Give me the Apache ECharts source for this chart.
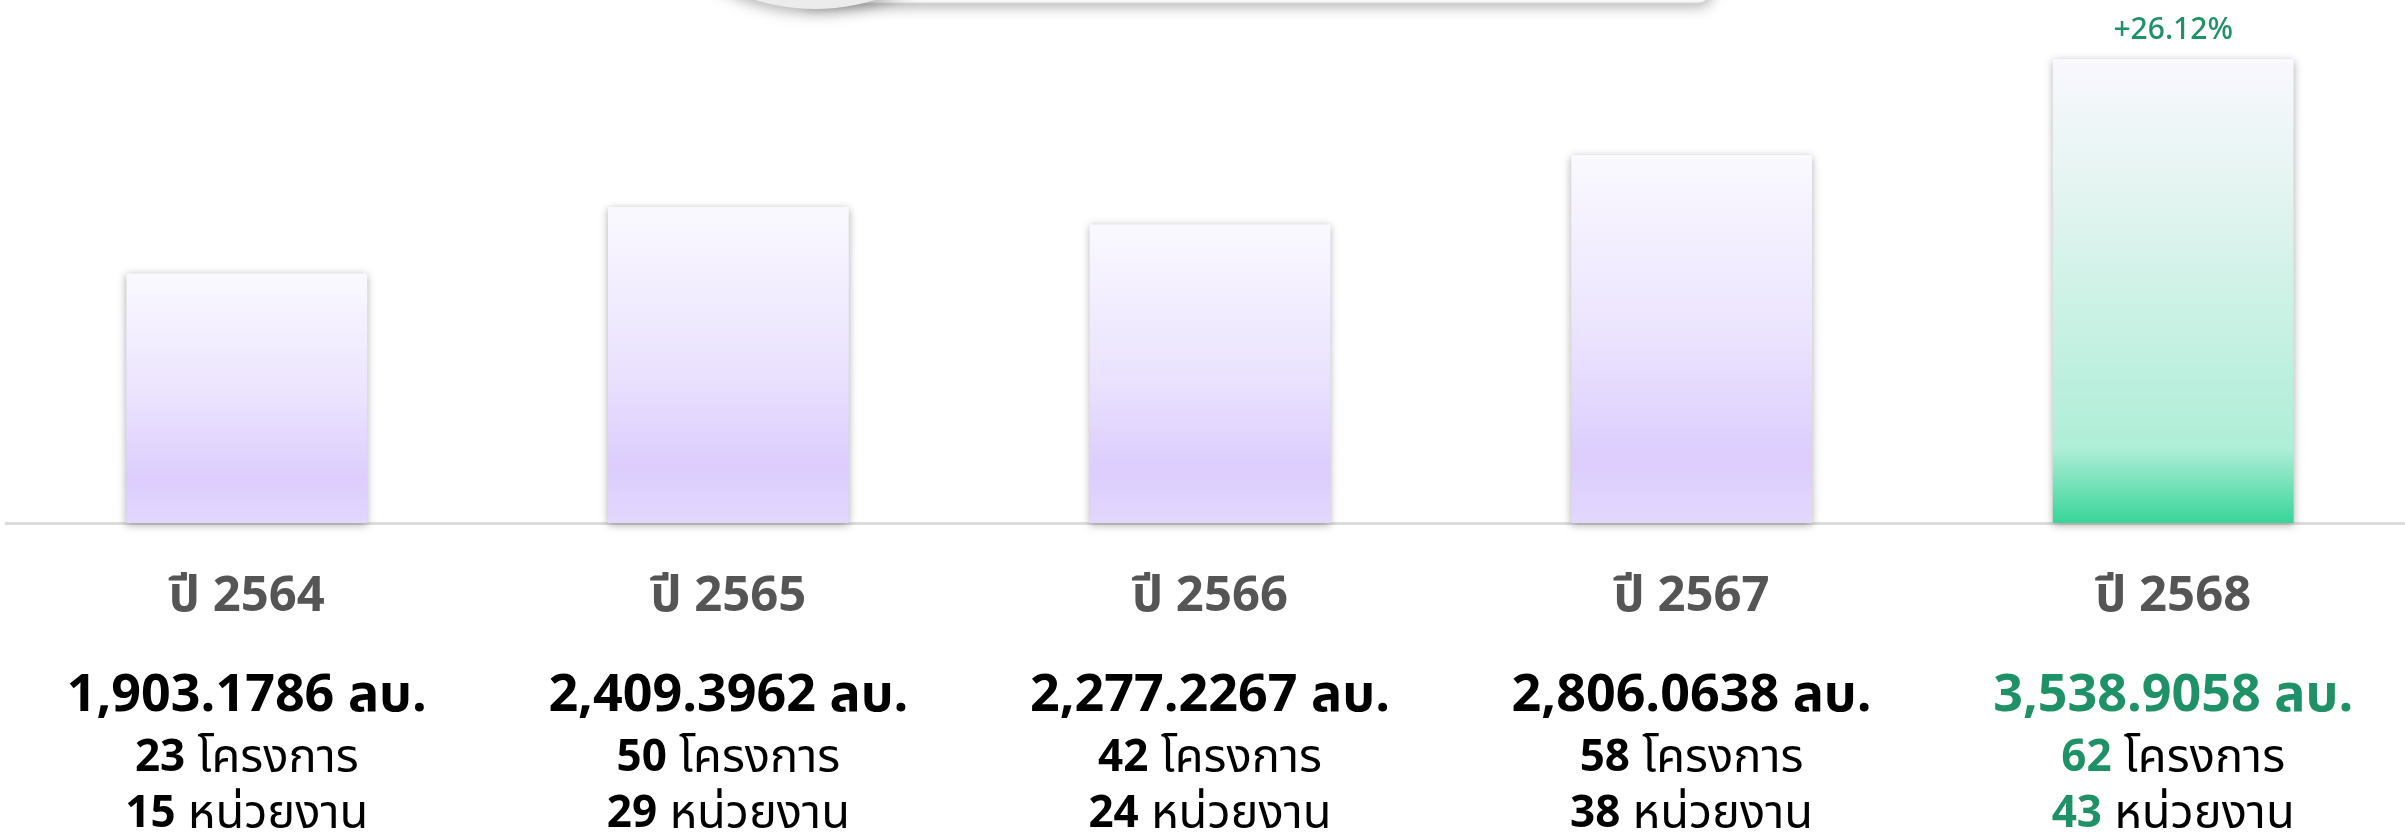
<!DOCTYPE html>
<html>
<head>
<meta charset="utf-8">
<title>งบประมาณรายปี</title>
<script src="https://cdn.jsdelivr.net/npm/echarts@6/dist/echarts.min.js"></script>
<style>
	html, body { margin: 0; padding: 0; background: #ffffff; }
	#budgetChart { width: 2405px; height: 834px; }
</style>
</head>
<body>
<div id="budgetChart"></div>
<script>
// ข้อมูลแต่ละปี
var years = ['ปี 2564', 'ปี 2565', 'ปี 2566', 'ปี 2567', 'ปี 2568'];
var budgets = [1903.1786, 2409.3962, 2277.2267, 2806.0638, 3538.9058];
var projects = [23, 50, 42, 58, 62];
var agencies = [15, 29, 24, 38, 43];

var FONT = '"Noto Sans Thai", "Noto Sans", "DejaVu Sans", sans-serif';
var GREEN = '#1f9166';

function BudgetChart()
{

}

BudgetChart.prototype =
{
	init:function()
	{
		var _this = this;
		_this.chart = echarts.init(document.getElementById("budgetChart"));
		_this.loadChart();
	},

	isLast:function(i)
	{
		return i === years.length - 1;
	},

	fmtMoney:function(v)
	{
		var parts = v.toFixed(4).split('.');
		return parts[0].replace(/\B(?=(\d{3})+(?!\d))/g, ',') + '.' + parts[1];
	},

	barColor:function(i)
	{
		if (this.isLast(i)) {
			return new echarts.graphic.LinearGradient(0, 0, 0, 1, [
				{offset: 0, color: '#f9f8fe'},
				{offset: 0.3, color: '#e2f4f0'},
				{offset: 0.84, color: '#aeeed7'},
				{offset: 1, color: '#38d598'}
			]);
		}
		return new echarts.graphic.LinearGradient(0, 0, 0, 1, [
			{offset: 0, color: '#faf9ff'},
			{offset: 0.5, color: '#ebe3fe'},
			{offset: 0.82, color: '#dccdfd'},
			{offset: 1, color: '#e3d7fd'}
		]);
	},

	// แกน x เพิ่มเติมสำหรับข้อความแต่ละบรรทัดใต้แท่ง
	labelAxis:function(margin, formatter, rich, showLine)
	{
		return {
			type: 'category',
			gridIndex: 0,
			position: 'bottom',
			data: years,
			axisLine: showLine ? {show: true, lineStyle: {color: '#dcdcdc', width: 3}} : {show: false},
			axisTick: {show: false},
			axisLabel: {
				interval: 0,
				margin: margin,
				verticalAlign: 'middle',
				formatter: formatter,
				rich: rich
			}
		};
	},

	loadChart:function()
	{
		var _this = this;

		var data = budgets.map(function(v, i) {
			return {
				value: v,
				itemStyle: {color: _this.barColor(i)}
			};
		});

		var growth = (budgets[4] - budgets[3]) / budgets[3] * 100;

		var option = {
			backgroundColor: '#ffffff',
			animation: false,
			grid: {
				left: 6,
				width: 2408,
				top: 59,
				bottom: 311,
				containLabel: false,
				outerBoundsMode: 'none'
			},
			graphic: [
				{
					type: 'rect',
					z: 10,
					shape: {x: 800, y: -120, width: 912, height: 123, r: 14},
					style: {
						fill: '#fafafa',
						stroke: '#d8d8d8',
						lineWidth: 1,
						shadowBlur: 14,
						shadowOffsetY: 3,
						shadowColor: 'rgba(0,0,0,0.3)'
					}
				},
				{
					type: 'circle',
					z: 11,
					shape: {cx: 815, cy: -195, r: 204},
					style: {
						fill: '#ececec',
						shadowBlur: 14,
						shadowOffsetY: 4,
						shadowColor: 'rgba(0,0,0,0.3)'
					}
				}
			],
			xAxis: [
				_this.labelAxis(78, function(v, i) {
					return '{y|' + v + '}';
				}, {
					y: {fontFamily: FONT, fontSize: 49, fontWeight: 'bold', color: '#555555'}
				}, true),
				_this.labelAxis(177, function(v, i) {
					var s = _this.fmtMoney(budgets[i]) + ' ลบ.';
					return _this.isLast(i) ? '{g|' + s + '}' : '{b|' + s + '}';
				}, {
					b: {fontFamily: FONT, fontSize: 52, fontWeight: 'bold', color: '#000000'},
					g: {fontFamily: FONT, fontSize: 52, fontWeight: 'bold', color: GREEN}
				}),
				_this.labelAxis(239, function(v, i) {
					var n = _this.isLast(i) ? '{gn|' + projects[i] + '}' : '{n|' + projects[i] + '}';
					return n + '{t| โครงการ}';
				}, {
					n: {fontFamily: FONT, fontSize: 44, fontWeight: 'bold', color: '#000000'},
					gn: {fontFamily: FONT, fontSize: 44, fontWeight: 'bold', color: GREEN},
					t: {fontFamily: FONT, fontSize: 47, color: '#000000'}
				}),
				_this.labelAxis(295, function(v, i) {
					var n = _this.isLast(i) ? '{gn|' + agencies[i] + '}' : '{n|' + agencies[i] + '}';
					return n + '{t| หน่วยงาน}';
				}, {
					n: {fontFamily: FONT, fontSize: 44, fontWeight: 'bold', color: '#000000'},
					gn: {fontFamily: FONT, fontSize: 44, fontWeight: 'bold', color: GREEN},
					t: {fontFamily: FONT, fontSize: 47, color: '#000000'}
				})
			],
			yAxis: [
				{
					type: 'value',
					min: 0,
					max: 'dataMax',
					show: false,
					splitLine: {show: false}
				}
			],
			series: [
				{
					name: 'งบประมาณ',
					type: 'bar',
					xAxisIndex: 0,
					barWidth: '50%',
					data: data,
					itemStyle: {
						shadowBlur: 8,
						shadowOffsetY: 2,
						shadowColor: 'rgba(0,0,0,0.32)'
					},
					label: {
						show: true,
						position: 'top',
						distance: 11,
						fontFamily: FONT,
						fontSize: 30,
						fontWeight: 500,
						color: GREEN,
						formatter: function(p) {
							return _this.isLast(p.dataIndex) ? '+' + growth.toFixed(2) + '%' : '';
						}
					}
				}
			]
		};

		_this.chart.setOption(option);
	}
};

new BudgetChart().init();
</script>
</body>
</html>
